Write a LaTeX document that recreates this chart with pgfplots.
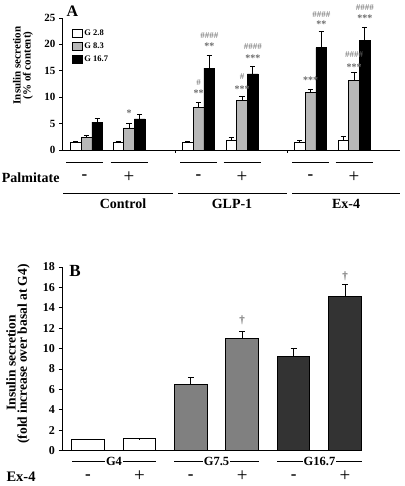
\documentclass[border=0pt]{standalone}
\usepackage{pgfplots}
\pgfplotsset{compat=1.18}
\usepackage{fontspec}
\setmainfont{Liberation Serif}
\definecolor{agray}{gray}{0.72}
\definecolor{bgray}{gray}{0.5}
\definecolor{bdark}{gray}{0.2}
\definecolor{anno}{gray}{0.42}
\newcommand{\fs}[1]{\fontsize{#1}{#1}\selectfont}

\pgfplotstableread{
x y e
75.7 1.4 0.2
118.2 1.4 0.2
187.7 1.4 0.3
231.2 1.8 0.6
299.7 1.5 0.3
343.2 1.9 0.6
}\Awhite
\pgfplotstableread{
x y e
86.5 2.4 0.3
129 4.2 0.8
198.5 8.0 1.0
242 9.4 0.7
310.5 10.9 0.5
354 13.2 1.5
}\Agray
\pgfplotstableread{
x y e
97.3 5.3 0.7
139.8 5.9 0.8
209.3 15.5 2.5
252.8 14.4 1.5
321.3 19.4 3.1
364.8 20.7 2.6
}\Ablack
\pgfplotstableread{
x y e
88 1.1 0.02
139.4 1.15 0.02
}\Bwhite
\pgfplotstableread{
x y e
190.8 6.5 0.7
242.2 11.0 0.7
}\Bgray
\pgfplotstableread{
x y e
293.6 9.2 0.8
345 15.1 1.2
}\Bdark

\begin{document}
\begin{tikzpicture}[x=1pt,y=1pt]
\useasboundingbox (0,0) rectangle (404,486);

% ---------------- Panel A ----------------
\begin{axis}[
  at={(62pt,336pt)}, anchor=south west,
  scale only axis, width=338pt, height=132pt,
  xmin=62, xmax=400, ymin=0, ymax=25,
  axis x line=bottom, axis y line=left,
  axis line style={-, line width=0.8pt},
  ytick={0,5,...,25}, xtick={175,287}, xticklabels={},
  tick align=outside, major tick length=3pt,
  tick style={line width=0.8pt, black},
  ticklabel style={font=\bfseries\fs{11}},
  /pgf/number format/assume math mode=true,
  ybar, bar width=10.8, bar shift=0pt,
  clip=false,
  legend style={at={(0.03,0.925)}, anchor=north west, draw=none, fill=none,
    font=\bfseries\fs{8.5}, row sep=1.8pt, inner sep=0pt, cells={anchor=west}},
  legend image code/.code={\draw[#1,/tikz/.cd,line width=0.6pt,draw=black] (0pt,-4pt) rectangle (9.5pt,4.5pt);},
  error bars/y dir=plus, error bars/y explicit,
  error bars/error bar style={black, line width=0.8pt},
  error bars/error mark options={rotate=90, black, line width=0.8pt, mark size=2.6pt},
]
\addplot[fill=white, draw=black, line width=0.6pt] table[x=x, y=y, y error=e]{\Awhite};
\addplot[fill=agray, draw=black, line width=0.6pt] table[x=x, y=y, y error=e]{\Agray};
\addplot[fill=black, draw=black, line width=0.6pt] table[x=x, y=y, y error=e]{\Ablack};
\legend{G 2.8, G 8.3, G 16.7}
\begin{scope}[every node/.style={text=anno, inner sep=0pt}]
\node[font=\bfseries\fs{10}] at (axis cs:129,7.0) {*};
\node[font=\bfseries\fs{10}] at (axis cs:198.5,10.7) {**};
\node[font=\fs{9}] at (axis cs:198.5,12.7) {\#};
\node[font=\bfseries\fs{10}] at (axis cs:209.3,19.6) {**};
\node[font=\fs{9}] at (axis cs:209.3,21.6) {\#\#\#\#};
\node[font=\bfseries\fs{10}] at (axis cs:242,11.6) {***};
\node[font=\fs{9}] at (axis cs:242,13.9) {\#};
\node[font=\bfseries\fs{10}] at (axis cs:252.8,17.3) {***};
\node[font=\fs{9}] at (axis cs:252.8,19.6) {\#\#\#\#};
\node[font=\bfseries\fs{10}] at (axis cs:310.5,13.3) {***};
\node[font=\bfseries\fs{10}] at (axis cs:321.3,23.8) {**};
\node[font=\fs{9}] at (axis cs:321.3,25.6) {\#\#\#\#};
\node[font=\bfseries\fs{10}] at (axis cs:354,15.7) {***};
\node[font=\fs{9}] at (axis cs:354,18.0) {\#\#\#\#};
\node[font=\bfseries\fs{10}] at (axis cs:364.8,25.0) {***};
\node[font=\fs{9}] at (axis cs:364.8,26.9) {\#\#\#\#};
\end{scope}
\end{axis}

% ---------------- Panel B ----------------
\begin{axis}[
  at={(62pt,35.5pt)}, anchor=south west,
  scale only axis, width=300pt, height=183.5pt,
  xmin=62, xmax=362, ymin=0, ymax=18,
  axis x line=bottom, axis y line=left,
  axis line style={-, line width=0.8pt},
  ytick={0,2,...,18}, xtick=\empty,
  tick align=outside, major tick length=3.5pt,
  tick style={line width=0.8pt, black},
  ticklabel style={font=\bfseries\fs{12}},
  /pgf/number format/assume math mode=true,
  ybar, bar width=32.5, bar shift=0pt,
  clip=false,
  error bars/y dir=plus, error bars/y explicit,
  error bars/error bar style={black, line width=0.9pt},
  error bars/error mark options={rotate=90, black, line width=0.9pt, mark size=3pt},
]
\addplot[fill=white, draw=black, line width=1pt] table[x=x, y=y, y error=e]{\Bwhite};
\addplot[fill=bgray, draw=black, line width=1pt] table[x=x, y=y, y error=e]{\Bgray};
\addplot[fill=bdark, draw=black, line width=1pt] table[x=x, y=y, y error=e]{\Bdark};
\node[font=\bfseries\fs{11}, text=anno] at (axis cs:242.2,12.8) {†};
\node[font=\bfseries\fs{11}, text=anno] at (axis cs:345,17.1) {†};
\end{axis}

% ---------------- annotations A ----------------
\node[font=\bfseries\fs{16}] at (72.5,475) {A};
\node[rotate=90, font=\bfseries\fs{11}] at (17,420.5) {Insulin secretion};
\node[rotate=90, font=\bfseries\fs{11}] at (28,420.5) {(\% of content)};
\begin{scope}[line width=0.8pt]
\foreach \c in {84.5,129,198.5,242,310.5,354}{\draw (\c-18.5,324) -- (\c+18.5,324);}
\draw (63,293) -- (173,293);
\draw (178,293) -- (287,293);
\draw (292,293) -- (400,293);
\end{scope}
\node[font=\bfseries\fs{14}, anchor=east] at (63,308.5) {Palmitate};
\foreach \c in {84.5,198.5,310.5}{\node[font=\bfseries\fs{17}] at (\c,309) {-};}
\foreach \c in {129,242,354}{\node[font=\fs{19}] at (\c,309) {+};}
\node[font=\bfseries\fs{14}] at (123,282) {Control};
\node[font=\bfseries\fs{14}] at (232,282) {GLP-1};
\node[font=\bfseries\fs{14}] at (346,282) {Ex-4};

% ---------------- annotations B ----------------
\node[font=\bfseries\fs{17}] at (75,215) {B};
\node[rotate=90, font=\bfseries\fs{13.5}] at (11,123) {Insulin secretion};
\node[rotate=90, font=\bfseries\fs{13.5}] at (23.5,132) {(fold increase over basal at G4)};
\begin{scope}[line width=0.8pt]
\draw (72,25) -- (156,25);
\draw (174,25) -- (259,25);
\draw (277,25) -- (362,25);
\end{scope}
\node[font=\bfseries\fs{12.5}, fill=white, inner xsep=1pt, inner ysep=0pt] at (114,25) {G4};
\node[font=\bfseries\fs{12.5}, fill=white, inner xsep=1pt, inner ysep=0pt] at (216.5,25) {G7.5};
\node[font=\bfseries\fs{12.5}, fill=white, inner xsep=1pt, inner ysep=0pt] at (319.5,25) {G16.7};
\node[font=\bfseries\fs{14.5}] at (21,9) {Ex-4};
\foreach \c in {88,190.8,293.6}{\node[font=\bfseries\fs{17}] at (\c,9) {-};}
\foreach \c in {139.4,242.2,345}{\node[font=\fs{19}] at (\c,9.5) {+};}
\end{tikzpicture}
\end{document}
